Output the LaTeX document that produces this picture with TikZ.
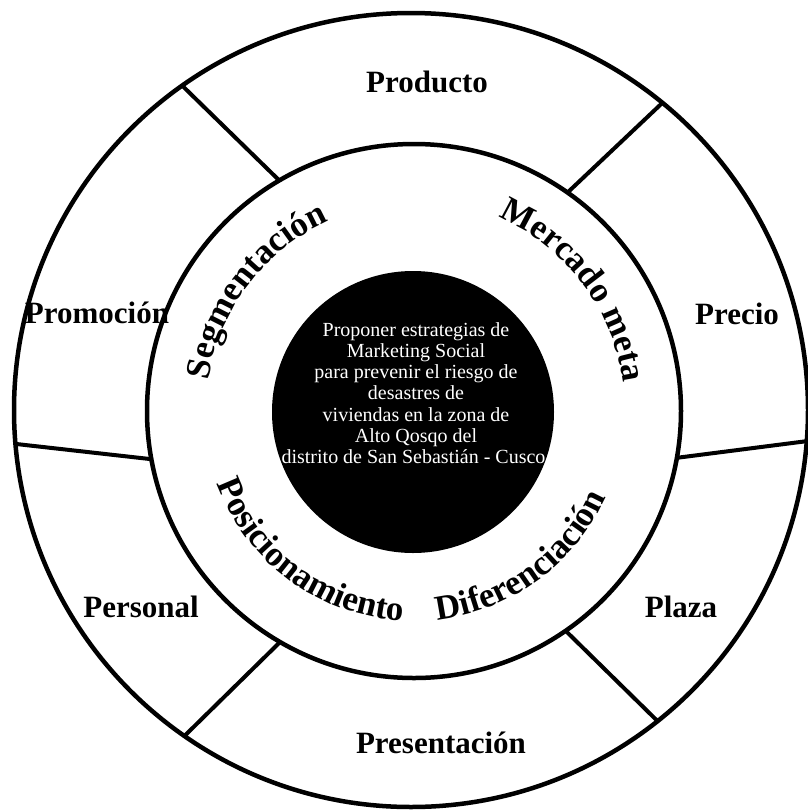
\documentclass[tikz,border=0pt]{standalone}
\usepackage{fontspec}
\setmainfont{Liberation Serif}
\usetikzlibrary{calc,decorations.text}
\newcommand\arcfont{\bfseries\fontsize{35}{35}\selectfont}
\newcommand\outfont{\bfseries\fontsize{31}{31}\selectfont}
\begin{document}
\begin{tikzpicture}[x=1pt,y=-1pt,
  ring/.style={line width=4.5pt},
  divider/.style={line width=4pt},
  outerlabel/.style={font=\outfont, inner sep=0pt, anchor=base},
  arclabel/.style={decorate, decoration={text along path, text align=center, text={|\arcfont|#1}}}]
\useasboundingbox (0,0) rectangle (807,812);
\fill[white] (0,0) rectangle (807,812);
\coordinate (O1) at (411,410);
\coordinate (O2) at (414,411);
\coordinate (O3) at (413,412);
% outer circle
\draw[ring] (O1) circle[radius=397pt];
% black core
\node[circle, fill=black, minimum size=282pt, inner sep=0pt] (core) at (O3) {};
% inner circle
\draw[ring] (O2) circle[radius=267pt];
% dividers
\coordinate (o1) at ($(O1)+(125.2:397pt)$);
\coordinate (i1) at ($(O2)+(120.3:267pt)$);
\coordinate (o2) at ($(O1)+(50.7:397pt)$);
\coordinate (i2) at ($(O2)+(54.9:267pt)$);
\coordinate (o3) at ($(O1)+(-4.5:397pt)$);
\coordinate (i3) at ($(O2)+(-10.1:267pt)$);
\coordinate (o4) at ($(O1)+(184.9:397pt)$);
\coordinate (i4) at ($(O2)+(190.4:267pt)$);
\coordinate (o5) at ($(O1)+(235.2:397pt)$);
\coordinate (i5) at ($(O2)+(239.9:267pt)$);
\coordinate (o6) at ($(O1)+(308.4:397pt)$);
\coordinate (i6) at ($(O2)+(304.6:267pt)$);
\foreach \k in {1,...,6} \draw[divider] (i\k) -- (o\k);
% outer labels
\node[outerlabel] (producto) at (427,92) {Producto};
\node[outerlabel] (promocion) at (97,323) {Promoción};
\node[outerlabel] (precio) at (737,324) {Precio};
\node[outerlabel] (personal) at (141,617) {Personal};
\node[outerlabel] (plaza) at (681,617) {Plaza};
\node[outerlabel] (presentacion) at (441,753) {Presentación};
% arc labels
\path[arclabel=Segmentación] ($(O2)+(187.8:208pt)$) arc[start angle=187.8, end angle=97.8, radius=208pt];
\path[arclabel=Mercado meta] ($(O2)+(82.1:211pt)$) arc[start angle=82.1, end angle=-7.9, radius=211pt];
\path[arclabel=Posicionamiento] ($(O2)+(188.6:210pt)$) arc[start angle=188.6, end angle=278.6, radius=210pt];
\path[arclabel=Diferenciación] ($(O2)+(261.2:210pt)$) arc[start angle=261.2, end angle=351.2, radius=210pt];
% center text
\node[anchor=north, inner sep=0pt, align=center, text=white, font=\fontsize{20}{21.3}\selectfont] (goal) at (416,322)
{Proponer estrategias de\\Marketing Social\\para prevenir el riesgo de\\desastres de\\viviendas en la zona de\\Alto Qosqo del\\distrito de San Sebastián - Cusco.};
\end{tikzpicture}
\end{document}
